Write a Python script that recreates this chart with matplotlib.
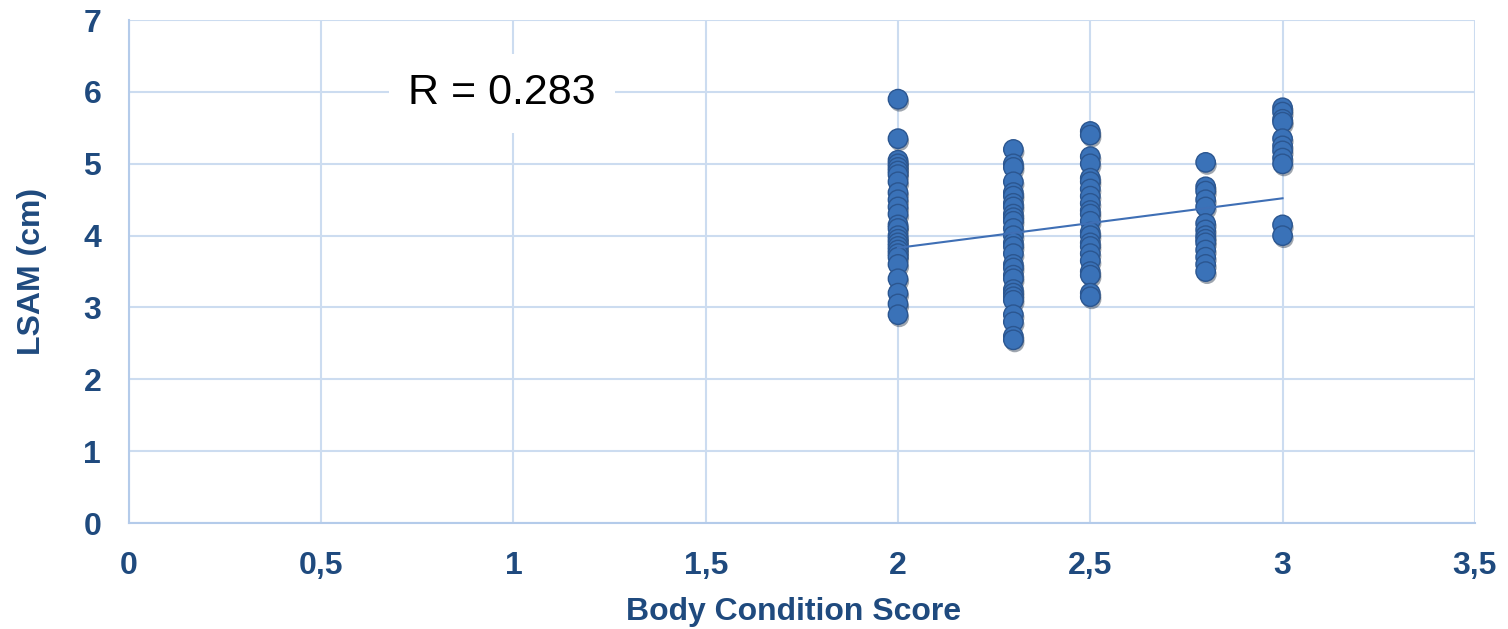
import matplotlib.pyplot as plt
import matplotlib.patheffects as pe
import numpy as np

plt.rcParams['font.family'] = ['Liberation Sans', 'DejaVu Sans']

# Data: LSAM (cm) by Body Condition Score
bcs_groups = [2.0, 2.3, 2.5, 2.8, 3.0]
lsam_20 = [5.9, 5.35, 5.05, 5.0, 4.95, 4.9, 4.85, 4.75, 4.6, 4.5, 4.4, 4.3, 4.15,
           4.1, 4.0, 3.95, 3.9, 3.85, 3.8, 3.75, 3.7, 3.6, 3.4, 3.2, 3.05, 2.9]
lsam_23 = [5.2, 5.0, 4.95, 4.75, 4.6, 4.55, 4.45, 4.4, 4.3, 4.25, 4.2, 4.1, 4.0,
           3.9, 3.85, 3.75, 3.6, 3.55, 3.45, 3.4, 3.25, 3.2, 3.15, 3.1, 2.9, 2.8,
           2.6, 2.55]
lsam_25 = [5.45, 5.4, 5.1, 5.0, 4.8, 4.75, 4.65, 4.55, 4.45, 4.35, 4.3, 4.2, 4.05,
           4.0, 3.9, 3.85, 3.75, 3.65, 3.5, 3.45, 3.2, 3.15]
lsam_28 = [5.02, 4.68, 4.62, 4.5, 4.4, 4.17, 4.08, 4.0, 3.95, 3.9, 3.8, 3.7, 3.6, 3.5]
lsam_30 = [5.78, 5.72, 5.62, 5.58, 5.35, 5.25, 5.18, 5.08, 5.0, 4.15, 4.0]
lsam_groups = [lsam_20, lsam_23, lsam_25, lsam_28, lsam_30]

# linear trend line end points
trend_x = [2.0, 3.0]
trend_y = [3.83, 4.52]

xticks = [0, 0.5, 1, 1.5, 2, 2.5, 3, 3.5]
xtick_labels = ['0', '0,5', '1', '1,5', '2', '2,5', '3', '3,5']
yticks = [0, 1, 2, 3, 4, 5, 6, 7]

TEXT = '#1F4A7E'
GRID = '#CCDCF0'

fig = plt.figure(figsize=(15.08, 6.29), dpi=100)
ax = fig.add_axes([0.0855, 0.1685, 0.8925, 0.7995])

xs = np.concatenate([[b] * len(v) for b, v in zip(bcs_groups, lsam_groups)])
ys = np.concatenate(lsam_groups)
pts = ax.scatter(xs, ys, s=195, color='#3A72B8', edgecolor='#2B5690',
                 linewidth=1.0, zorder=3)
pts.set_path_effects([pe.SimplePatchShadow(offset=(1, -2), alpha=0.4),
                      pe.Normal()])

ax.plot(trend_x, trend_y, color='#3F6FB5', linewidth=1.5, zorder=4)

ax.set_xlim(0, 3.5)
ax.set_ylim(0, 7)
ax.set_xticks(xticks)
ax.set_xticklabels(xtick_labels)
ax.set_yticks(yticks)
ax.grid(True, color=GRID, linewidth=1.5)
ax.set_axisbelow(True)
for side in ['top', 'right']:
    ax.spines[side].set_visible(False)
for side in ['left', 'bottom']:
    ax.spines[side].set_color('#B4CBEA')
    ax.spines[side].set_linewidth(1.5)
ax.tick_params(length=0, pad=20, labelsize=23, labelcolor=TEXT)
for lab in ax.get_xticklabels() + ax.get_yticklabels():
    lab.set_fontweight('bold')

ax.set_xlabel('Body Condition Score', fontsize=23, fontweight='bold',
              color=TEXT, labelpad=10)
ax.xaxis.set_label_coords(0.494, -0.148)
ax.set_ylabel('LSAM (cm)', fontsize=23, fontweight='bold', color=TEXT,
              labelpad=26)

ax.text(0.97, 5.98, 'R = 0.283', fontsize=31, color='black', ha='center',
        va='center', zorder=5,
        bbox=dict(boxstyle='square,pad=0.45', facecolor='white', edgecolor='none'))

fig.savefig('out.png', dpi=100)
